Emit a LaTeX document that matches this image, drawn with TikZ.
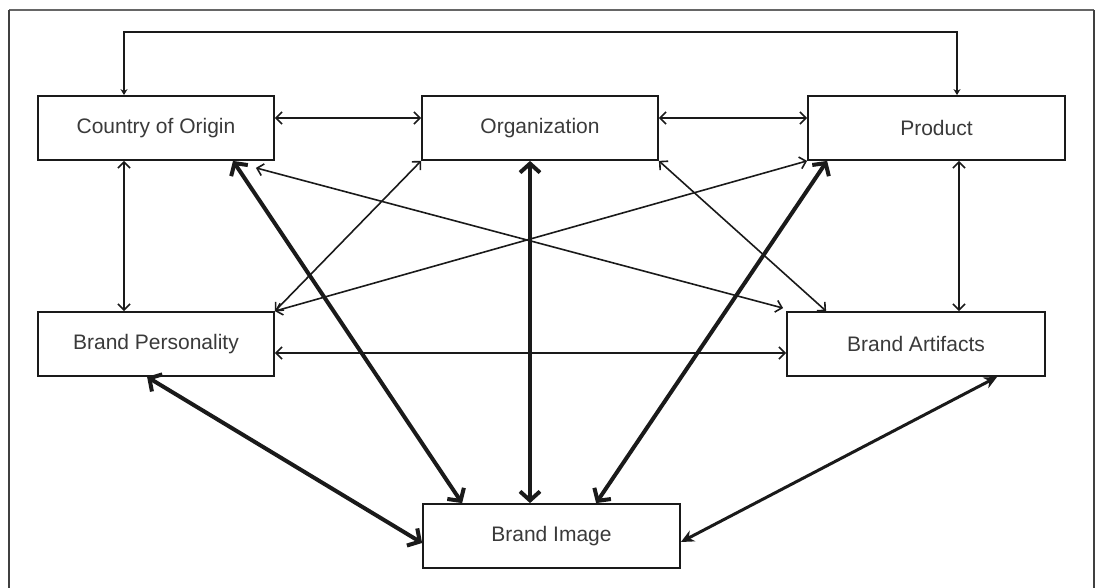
\documentclass[tikz,border=0pt]{standalone}
\usepackage{fontspec}
\setmainfont{Liberation Sans}
\usetikzlibrary{arrows.meta}
\definecolor{ink}{HTML}{1A1A1A}
\definecolor{txt}{HTML}{3A3A3A}
\tikzset{
  box/.style={draw=ink, line width=1.8pt, fill=white, minimum width=236pt, minimum height=64pt,
    inner sep=0pt, font=\fontsize{21}{25}\selectfont, text=txt},
  thin/.style={draw=ink, line width=1.6pt, {Straight Barb[length=6pt,width=12pt]}-{Straight Barb[length=6pt,width=12pt]}},
  thick/.style={draw=ink, line width=4pt, {Straight Barb[length=9pt,width=20pt]}-{Straight Barb[length=9pt,width=20pt]}},
  midthick/.style={draw=ink, line width=3pt, {Stealth[length=13pt,width=12pt]}-{Stealth[length=13pt,width=12pt]}},
  topc/.style={draw=ink, line width=1.8pt, {Stealth[length=6pt,width=7pt]}-{Stealth[length=6pt,width=7pt]}}
}
\begin{document}
\begin{tikzpicture}[x=1pt,y=-1pt]
\useasboundingbox (0,0) rectangle (1098,588);
\fill[white] (0,0) rectangle (1098,588);
% frame
\draw[gray!80!black, line width=1.3pt] (9,10) -- (1094,10);
\draw[black!75, line width=1.4pt] (9,10) -- (9,600);
\draw[black!75, line width=1.4pt] (1094,10) -- (1094,600);
% nodes
\node[box] (coo) at (156,128) {Country of Origin};
\node[box] (org) at (540,128) {Organization};
\node[box, minimum width=257pt] (prod) at (936.5,128) {Product};
\node[box] (bp) at (156,344) {Brand Personality};
\node[box, minimum width=258pt] (ba) at (916,344) {Brand Artifacts};
\node[box, minimum width=257pt] (bi) at (551.5,536) {Brand Image};
\coordinate (rail) at (540,32);
% top connector
\draw[topc] ([xshift=-32pt]coo.north) |- (rail) -| ([xshift=20.5pt]prod.north);
% thin connectors
\draw[thin] ([yshift=10pt]coo.east) -- ([yshift=10pt]org.west);
\draw[thin] ([yshift=10pt]org.east) -- ([yshift=10pt]prod.west);
\draw[thin] ([xshift=-32pt]coo.south) -- ([xshift=-32pt]bp.north);
\draw[thin] ([xshift=22.5pt]prod.south) -- ([xshift=22.5pt]prod.south |- ba.north);
\draw[thin] ([yshift=-9pt]bp.east) -- ([yshift=-9pt]bp.east -| ba.west);
\draw[thin] (bp.north east) -- (org.south west);
\draw[thin] (bp.north east) -- (prod.south west);
\draw[thin] ([shift={(-19,7)}]coo.south east) -- ([shift={(-3,-3)}]ba.north west);
\draw[thin] (org.south east) -- ([xshift=40pt]ba.north west);
% thick connectors
\draw[thick] ([xshift=77pt]coo.south) -- ([xshift=40pt]bi.north west);
\draw[thick] ([xshift=-10pt]org.south) -- ([xshift=-10pt]org.south |- bi.north);
\draw[thick] ([xshift=20pt]prod.south west) -- ([xshift=174pt]bi.north west);
\draw[thick] ([xshift=110pt]bp.south west) -- ([yshift=-7pt]bi.west);
\draw[midthick] ([xshift=211pt]ba.south west) -- ([yshift=-6pt]bi.east);
\end{tikzpicture}
\end{document}
